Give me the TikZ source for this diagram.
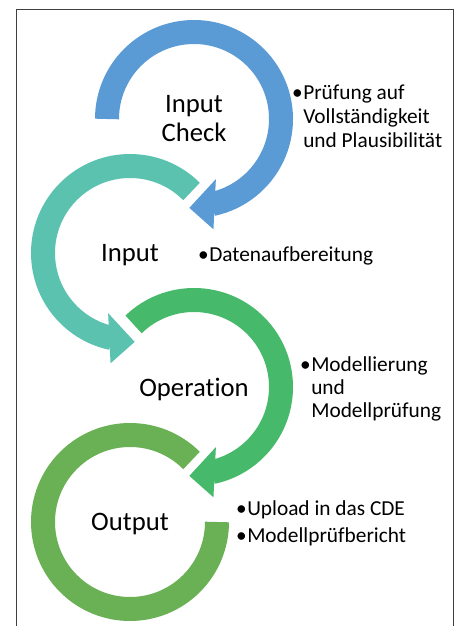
\documentclass[tikz,border=0pt]{standalone}
\usepackage{fontspec}
\setmainfont{Carlito}[Ligatures=NoCommon]
\usepackage{xcolor}

\definecolor{checkblue}{HTML}{5B9BD5}
\definecolor{inputteal}{HTML}{5BC2B0}
\definecolor{opgreen}{HTML}{47B96A}
\definecolor{outgreen}{HTML}{6AB054}
\newcommand{\bul}{\llap{\textbullet\hspace{0.3pt}}}

\begin{document}
\begin{tikzpicture}[
    x=0.75pt, y=0.75pt,
    ring/.style={
        line width=18pt
    },
    title/.style={
        inner sep=0pt,
        align=center,
        anchor=base,
        font=\fontsize{20}{21.75}\selectfont
    },
    notes/.style={
        inner sep=0pt,
        align=left,
        anchor=base west,
        font=\fontsize{16}{18}\selectfont
    }
]

\useasboundingbox (0,0) rectangle (460,626);
\draw[black!75, line width=0.75pt] (16,-5) -- (16,616) -- (453,616) -- (453,-5);

\coordinate (check) at (194,507);
\coordinate (input) at (130,373);
\coordinate (oper) at (194,239);
\coordinate (output) at (130,104);

\draw[ring, checkblue] ([shift={(180:87)}]check) arc[start angle=180, end angle=-78, radius=87];
\fill[checkblue] ([shift={(-70:64)}]check) -- ([shift={(-93:89)}]check) -- ([shift={(-80:112)}]check) -- cycle;

\draw[ring, inputteal] ([shift={(45:87)}]input) arc[start angle=45, end angle=258, radius=87];
\fill[inputteal] ([shift={(250:64)}]input) -- ([shift={(273:89)}]input) -- ([shift={(260:112)}]input) -- cycle;

\draw[ring, opgreen] ([shift={(134:87)}]oper) arc[start angle=134, end angle=-78, radius=87];
\fill[opgreen] ([shift={(-70:64)}]oper) -- ([shift={(-93:89)}]oper) -- ([shift={(-80:112)}]oper) -- cycle;

\draw[ring, outgreen] ([shift={(45:87)}]output) arc[start angle=45, end angle=360, radius=87];

\node[title] (checktxt) at (194,484) {Input\\Check};
\node[title] (inputtxt) at (130,364) {Input};
\node[title] (opertxt) at (194,229) {Operation};
\node[title] (outputtxt) at (130,95) {Output};

\node[notes] (checknote) at (303,478) {\bul Prüfung auf\\Vollständigkeit\\und Plausibilität};
\node[notes] (inputnote) at (209,364) {\bul Datenaufbereitung};
\node[notes, font=\fontsize{16}{17.6}\selectfont] (opernote) at (311,208) {\bul Modellierung\\und\\Modellprüfung};
\node[notes, font=\fontsize{16}{20.25}\selectfont] (outputnote) at (247,84) {\bul Upload in das CDE\\\bul Modellprüfbericht};

\end{tikzpicture}
\end{document}
